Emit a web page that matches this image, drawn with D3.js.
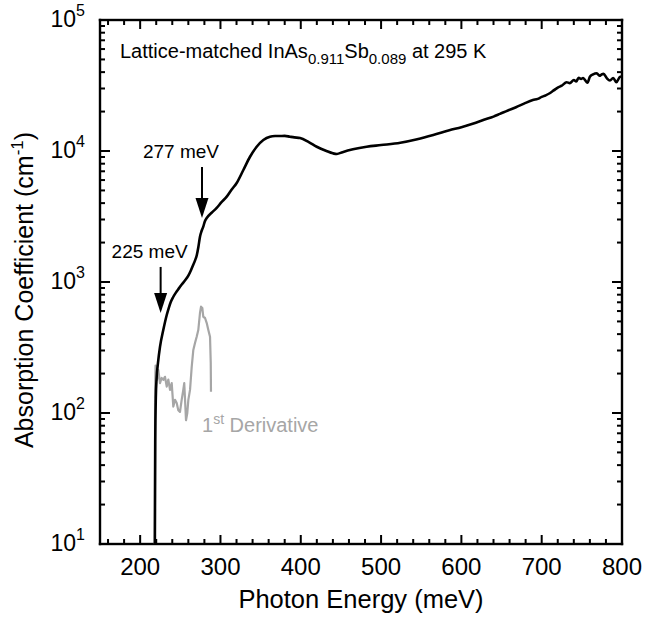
<!DOCTYPE html>
<html><head><meta charset="utf-8">
<script src="https://cdn.jsdelivr.net/npm/d3@7"></script>
<style>
html,body{margin:0;padding:0;background:#fff;}
svg text{font-family:"Liberation Sans",Arial,Helvetica,sans-serif;}
</style></head>
<body><svg id="c" width="646" height="620" xmlns="http://www.w3.org/2000/svg"></svg>
<script>
// ---- data ----
const absEnergy = [218.3,218.8,219.5,220.5,222.2,224.7,228.8,233.1,235.5,238,241,244.5,248,252,256,260,263,266,268.5,270.5,272.5,274.5,276.5,278.6,280.5,282.9,289,295.3,301,307.8,314,320.2,328.5,336.8,345.1,353.4,361.7,368,374.2,380,386.6,392,399.1,410,419.9,432,440,445,452,465,482,500,524,545,565,585,600,615,628,640,648,658,668,678,689,695,700,705,710,715,720,725,731,735,740,743,746,749,751.5,754,757,760,764,768.6,772,775,777,781,785,789,793,797.6,800];
const absValue = [10,60,130,185,241,320,430,560,630,700,765,830,890,960,1030,1120,1220,1350,1470,1600,1850,2218,2450,2644,2900,3080,3380,3675,4050,4480,5080,5700,7160,9040,10780,12130,12850,13000,13020,13050,12850,12700,12560,11700,10780,10000,9600,9490,9800,10300,10780,11100,11570,12300,13250,14400,15200,16200,17300,18300,19200,20400,21600,23000,24500,25000,25900,26600,27600,29000,30500,31500,33500,33000,34800,34000,36200,35500,36100,34800,33200,36900,38500,39200,37500,38600,38800,36000,34500,36100,33500,36900,37000];
const derivEnergy = [218.3,218.6,219.2,219.7,221,222.6,224.7,226.8,228.8,230.9,233.1,235.1,237.2,239.3,241.3,243.4,245.5,247.5,249.6,251.7,253.7,254.9,257.1,258.7,260.0,262.1,264.2,266.2,268.3,270.4,272.4,274.5,275.8,277.4,278.6,280.8,282.9,284.9,287.0,287.9,288.2];
const derivValue = [10,150,230,195,180,213,169,185,179,189,159,180,150,169,112,126,119,105,102,126,150,169,88,100,126,150,225,303,342,382,430,580,648,634,543,531,486,430,382,241,145];
const xTicks = [200,300,400,500,600,700,800];
const yTickExp = [1,2,3,4,5];
const arrows = [ {label:"277 meV", e:277, from:7550, to:3080, dx:-21},
                 {label:"225 meV", e:225.5, from:1303, to:580, dx:-11} ];

// ---- layout ----
const svg = d3.select("#c");
const L=100,R=622,T=20,B=544;
const x = d3.scaleLinear().domain([150,800]).range([L,R]);
const y = d3.scaleLog().domain([10,1e5]).range([B,T]);
const xMinor = d3.range(160,801,20).filter(v=>v%100!==0);
const yMajor = yTickExp.map(e=>Math.pow(10,e));
const yMinor = [];
[10,100,1000,10000].forEach(d=>{for(let k=2;k<=9;k++) yMinor.push(d*k);});

// frame and ticks as filled rectangles
const fr = svg.append("g").attr("fill","#000");
const lw = 2.4;
fr.append("rect").attr("x",L-lw/2).attr("y",T-lw/2).attr("width",R-L+lw).attr("height",lw);
fr.append("rect").attr("x",L-lw/2).attr("y",B-lw/2).attr("width",R-L+lw).attr("height",lw);
fr.append("rect").attr("x",L-lw/2).attr("y",T-lw/2).attr("width",lw).attr("height",B-T+lw);
fr.append("rect").attr("x",R-lw/2).attr("y",T-lw/2).attr("width",lw).attr("height",B-T+lw);
function xtick(vals,len){
  fr.selectAll(null).data(vals).enter().append("rect").attr("x",d=>x(d)-1).attr("y",B-len).attr("width",2).attr("height",len);
  fr.selectAll(null).data(vals).enter().append("rect").attr("x",d=>x(d)-1).attr("y",T).attr("width",2).attr("height",len);
}
function ytick(vals,len){
  fr.selectAll(null).data(vals).enter().append("rect").attr("y",d=>y(d)-1).attr("x",L).attr("height",2).attr("width",len);
  fr.selectAll(null).data(vals).enter().append("rect").attr("y",d=>y(d)-1).attr("x",R-len).attr("height",2).attr("width",len);
}
xtick(xMinor,5); xtick(xTicks,9); ytick(yMinor,5); ytick(yMajor,10);

// tick labels
svg.append("g").selectAll("text").data(xTicks).enter().append("text")
  .attr("x",d=>x(d)).attr("y",B+31).attr("text-anchor","middle").attr("font-size",24).attr("fill","#000").text(d=>d);
svg.append("g").selectAll("text").data(yMajor).enter().append("text")
  .attr("x",L-15).attr("y",d=>y(d)+7).attr("text-anchor","end").attr("font-size",23).attr("fill","#000")
  .each(function(d){
    const t=d3.select(this);
    t.append("tspan").text("10");
    t.append("tspan").attr("dy",-11).attr("font-size",16).text(Math.round(Math.log10(d)));
  });

// curves
const absData = absEnergy.map((e,i)=>[e,absValue[i]]);
const derData = derivEnergy.map((e,i)=>[e,derivValue[i]]);
const line = d3.line().x(d=>x(d[0])).y(d=>y(d[1]));
svg.append("path").datum(derData).attr("d",line).attr("fill","none").attr("stroke","#a6a6a6").attr("stroke-width",2.2).attr("stroke-linejoin","round");
svg.append("path").datum(absData).attr("d",line.curve(d3.curveMonotoneX)).attr("fill","none").attr("stroke","#000").attr("stroke-width",2.6).attr("stroke-linejoin","round");

// arrows
arrows.forEach(a=>{
  const axp = x(a.e), y0=y(a.from), y1=y(a.to);
  svg.append("line").attr("x1",axp).attr("x2",axp).attr("y1",y0).attr("y2",y1-18).attr("stroke","#000").attr("stroke-width",2);
  svg.append("path").attr("d",`M${axp-6.5},${y1-20}L${axp+6.5},${y1-20}L${axp},${y1}Z`).attr("fill","#000");
  svg.append("text").attr("x",axp+a.dx).attr("y",y0-9).attr("text-anchor","middle").attr("font-size",19).attr("fill","#000").text(a.label);
});

// title
const tt = svg.append("text").attr("x",120).attr("y",58).attr("font-size",20).attr("fill","#000");
tt.append("tspan").text("Lattice-matched InAs");
tt.append("tspan").attr("dy",6).attr("font-size",15).text("0.911");
tt.append("tspan").attr("dy",-6).text("Sb");
tt.append("tspan").attr("dy",6).attr("font-size",15).text("0.089");
tt.append("tspan").attr("dy",-6).text(" at 295 K");

// derivative label
const dl = svg.append("text").attr("x",202).attr("y",432).attr("font-size",20).attr("fill","#a6a6a6");
dl.append("tspan").text("1");
dl.append("tspan").attr("dy",-8).attr("font-size",14).text("st");
dl.append("tspan").attr("dy",8).text(" Derivative");

// axis titles
svg.append("text").attr("x",(L+R)/2).attr("y",608).attr("text-anchor","middle").attr("font-size",25.5).attr("fill","#000").text("Photon Energy (meV)");
const ytt = svg.append("text").attr("transform",`translate(33,290) rotate(-90)`).attr("text-anchor","middle").attr("font-size",25).attr("fill","#000");
ytt.append("tspan").text("Absorption Coefficient (cm");
ytt.append("tspan").attr("dy",-10).attr("font-size",17).text("-1");
ytt.append("tspan").attr("dy",10).text(")");
</script></body></html>
